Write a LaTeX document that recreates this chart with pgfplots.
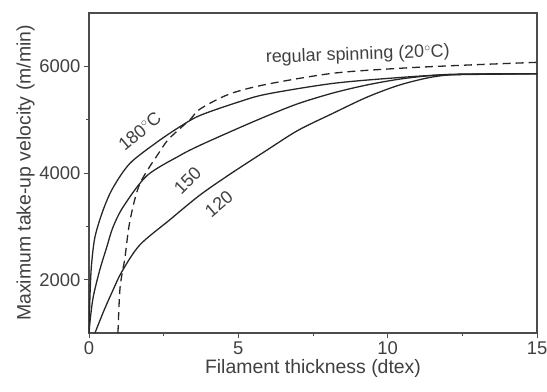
\documentclass[border=0pt]{standalone}
\usepackage{pgfplots}
\pgfplotsset{compat=1.18}
\usepackage{fontspec}
\setmainfont{Liberation Sans}
\begin{document}
\begin{tikzpicture}
\begin{axis}[
  name=ax,
  scale only axis,
  width=448bp, height=320bp,
  xmin=0, xmax=15, ymin=1000, ymax=7000,
  xtick={0,5,10,15}, ytick={2000,4000,6000},
  minor xtick={2.5,7.5,12.5}, minor ytick={3000,5000},
  tick pos=left,
  tick align=outside,
  major tick length=5bp, minor tick length=3bp,
  axis line style={black!70, line width=1.1pt},
  every tick/.style={black!70, line width=0.9pt},
  /pgf/number format/assume math mode=true,
  /pgf/number format/1000 sep={},
  ticklabel style={font=\fontsize{18.5}{20}\selectfont, text=black!75},
  label style={font=\fontsize{19.5}{21}\selectfont, text=black!75},
  xlabel={Filament thickness (dtex)},
  ylabel={Maximum take-up velocity (m/min)},
  xlabel style={yshift=2bp},
  ylabel style={yshift=-2bp},
  clip=true,
]
% 180 C
\addplot[black!85, line width=1.3pt, smooth, tension=0.5] coordinates {(0,1000) (0.03,1650) (0.08,2250) (0.2,2800) (0.47,3300) (0.8,3720) (1.37,4180) (2.28,4580) (3.05,4870) (3.72,5080) (5,5330) (5.96,5480) (8.17,5680) (10.4,5790) (12,5840) (15,5860)};
% 150
\addplot[black!85, line width=1.3pt, smooth, tension=0.5] coordinates {(0,1000) (0.05,1300) (0.15,1700) (0.37,2200) (0.6,2620) (0.8,2980) (1.15,3370) (1.94,3950) (3.05,4330) (3.72,4520) (5,4840) (5.96,5070) (7,5300) (8.17,5500) (9.3,5650) (10.4,5760) (11.5,5830) (12.5,5855) (15,5860)};
% 120
\addplot[black!85, line width=1.3pt, smooth, tension=0.5] coordinates {(0.2,1000) (0.5,1420) (0.8,1800) (1.1,2150) (1.7,2650) (2.7,3120) (3.7,3580) (4.7,3970) (5.96,4430) (7,4800) (8.17,5120) (9.3,5420) (10.4,5650) (11.5,5800) (12.5,5850) (15,5860)};
% regular spinning
\addplot[black!85, line width=1.3pt, smooth, tension=0.5, dash pattern=on 8pt off 5pt] coordinates {(0.97,1000) (1.04,1850) (1.2,2400) (1.37,3100) (1.7,3794) (2.38,4411) (2.7,4654) (3.38,5000) (3.72,5200) (4.7,5480) (5.96,5664) (8.17,5870) (10.4,5963) (12.5,6020) (15,6075)};
\node[rotate=40, font=\fontsize{18}{19}\selectfont, text=black!75] at (axis cs:1.7,4780) {180$^{\circ}$C};
\node[rotate=45, font=\fontsize{18}{19}\selectfont, text=black!75] at (axis cs:3.3,3860) {150};
\node[rotate=40, font=\fontsize{18}{19}\selectfont, text=black!75] at (axis cs:4.35,3420) {120};
\node[font=\fontsize{18}{19}\selectfont, text=black!75, rotate=2] at (axis cs:9.0,6210) {regular spinning (20$^{\circ}$C)};
\end{axis}
\pgfresetboundingbox
\path[use as bounding box] ([xshift=-89bp,yshift=-59bp]ax.south west) rectangle ([xshift=10bp,yshift=13bp]ax.north east);
\end{tikzpicture}
\end{document}
